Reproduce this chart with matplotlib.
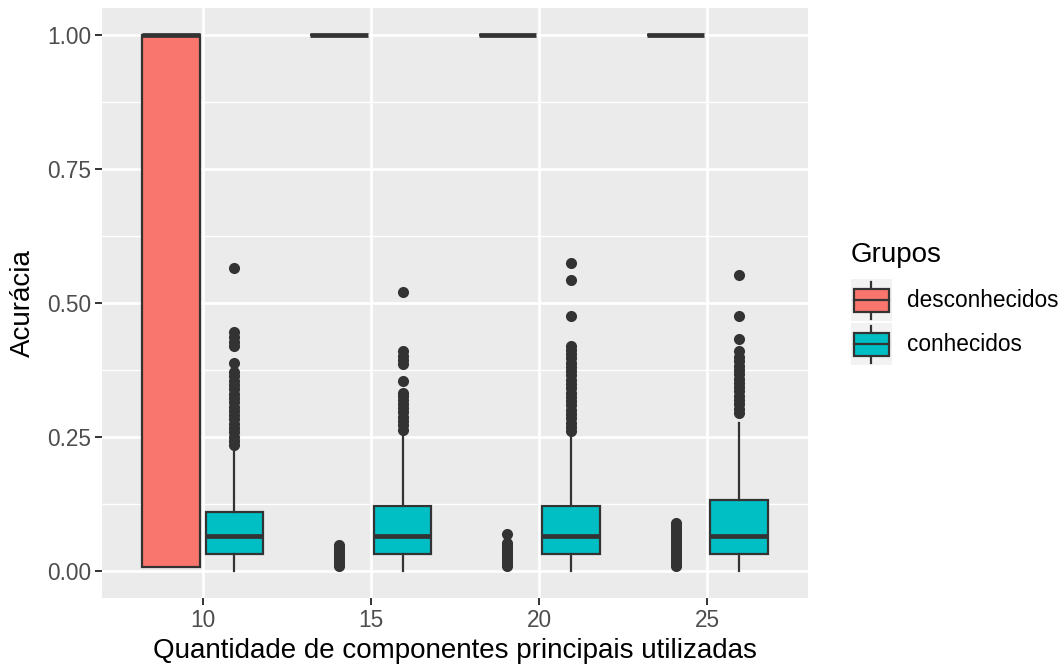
import matplotlib.pyplot as plt
from matplotlib.patches import Patch, Rectangle
from matplotlib.lines import Line2D
from matplotlib.legend_handler import HandlerBase

plt.rcParams['font.family'] = ['Liberation Sans', 'DejaVu Sans']

componentes = [10, 15, 20, 25]
grupos = ["desconhecidos", "conhecidos"]
cores = ["#F8766D", "#00BFC4"]

# estatisticas dos boxplots (desconhecidos)
desc_q1 = [0.008, 1.0, 1.0, 1.0]
desc_med = [1.0, 1.0, 1.0, 1.0]
desc_q3 = [1.0, 1.0, 1.0, 1.0]
desc_lo = [0.008, 1.0, 1.0, 1.0]
desc_hi = [1.0, 1.0, 1.0, 1.0]
desc_out = [
    [],
    [0.009, 0.014, 0.019, 0.024, 0.029, 0.034, 0.039, 0.044, 0.049],
    [0.009, 0.014, 0.019, 0.024, 0.029, 0.034, 0.039, 0.044, 0.048, 0.052, 0.069],
    [0.009, 0.014, 0.019, 0.024, 0.029, 0.034, 0.039, 0.044, 0.049, 0.054,
     0.059, 0.064, 0.069, 0.074, 0.079, 0.084, 0.09],
]

# estatisticas dos boxplots (conhecidos)
con_q1 = [0.032, 0.032, 0.032, 0.032]
con_med = [0.065, 0.065, 0.065, 0.065]
con_q3 = [0.110, 0.121, 0.121, 0.132]
con_lo = [0.0, 0.0, 0.0, 0.0]
con_hi = [0.224, 0.254, 0.261, 0.276]
con_out = [
    [0.235, 0.243, 0.251, 0.259, 0.267, 0.275, 0.283, 0.291, 0.299, 0.307, 0.315,
     0.323, 0.331, 0.339, 0.347, 0.355, 0.363, 0.371, 0.388, 0.42, 0.428, 0.436,
     0.445, 0.565],
    [0.264, 0.272, 0.28, 0.288, 0.296, 0.304, 0.312, 0.32, 0.326, 0.332, 0.354,
     0.386, 0.394, 0.402, 0.41, 0.521],
    [0.261, 0.269, 0.277, 0.285, 0.293, 0.301, 0.309, 0.317, 0.325, 0.333, 0.341,
     0.349, 0.357, 0.365, 0.373, 0.381, 0.389, 0.397, 0.405, 0.413, 0.42, 0.476,
     0.542, 0.575],
    [0.295, 0.303, 0.311, 0.319, 0.327, 0.335, 0.343, 0.351, 0.359, 0.367, 0.375,
     0.383, 0.391, 0.399, 0.41, 0.433, 0.476, 0.553],
]

desloc = 0.94
largura = 1.72
escuro = "#333333"


def monta_stats(q1, med, q3, lo, hi, out):
    return [dict(q1=a, med=b, q3=c, whislo=d, whishi=e, fliers=f)
            for a, b, c, d, e, f in zip(q1, med, q3, lo, hi, out)]


class BoxKey(HandlerBase):
    def create_artists(self, legend, orig_handle, xdescent, ydescent,
                       width, height, fontsize, trans):
        x0, y0 = -xdescent, -ydescent
        fundo = Rectangle((x0, y0), width, height, fc="#F2F2F2", ec="none",
                          transform=trans)
        xc = x0 + width / 2
        bx = x0 + width * 0.07
        bw = width * 0.86
        by = y0 + height * 0.22
        bh = height * 0.55
        w1 = Line2D([xc, xc], [y0 + height * 0.06, by], color=escuro, lw=1.6,
                    transform=trans)
        w2 = Line2D([xc, xc], [by + bh, y0 + height * 0.94], color=escuro,
                    lw=1.6, transform=trans)
        caixa = Rectangle((bx, by), bw, bh, fc=orig_handle.get_facecolor(),
                          ec=escuro, lw=1.6, transform=trans)
        meio = Line2D([bx, bx + bw], [by + bh / 2] * 2, color=escuro, lw=1.6,
                      transform=trans)
        return [fundo, w1, w2, caixa, meio]


fig = plt.figure(figsize=(10.64, 6.66), dpi=100)
ax = fig.add_axes([102 / 1064, 1 - 598 / 666, 706 / 1064, 590 / 666])
ax.set_facecolor("#EBEBEB")
for s in ax.spines.values():
    s.set_visible(False)

series = [
    (monta_stats(desc_q1, desc_med, desc_q3, desc_lo, desc_hi, desc_out), -desloc, cores[0]),
    (monta_stats(con_q1, con_med, con_q3, con_lo, con_hi, con_out), desloc, cores[1]),
]
for stats, d, cor in series:
    ax.bxp(stats, positions=[c + d for c in componentes], widths=largura,
           patch_artist=True, showcaps=False, manage_ticks=False,
           boxprops=dict(facecolor=cor, edgecolor=escuro, linewidth=1.6),
           medianprops=dict(color=escuro, linewidth=3.4, solid_capstyle="butt"),
           whiskerprops=dict(color=escuro, linewidth=1.6),
           flierprops=dict(marker="o", markersize=8, markerfacecolor=escuro,
                           markeredgecolor=escuro, markeredgewidth=0),
           zorder=3)

ax.set_xlim(7, 28)
ax.set_ylim(-0.05, 1.05)
ax.set_xticks(componentes)
ax.set_yticks([0, 0.25, 0.5, 0.75, 1.0])
ax.set_yticklabels(["0.00", "0.25", "0.50", "0.75", "1.00"])
ax.set_yticks([0.125, 0.375, 0.625, 0.875], minor=True)
ax.grid(True, which="major", color="white", linewidth=1.9, zorder=0)
ax.grid(True, which="minor", axis="y", color="white", linewidth=0.95, zorder=0)
ax.set_axisbelow(True)
ax.tick_params(axis="both", which="major", length=5, width=1.4, color=escuro,
               labelsize=16.3, labelcolor="#4D4D4D", pad=3)
ax.tick_params(axis="both", which="minor", length=0)

ax.set_xlabel("Quantidade de componentes principais utilizadas", fontsize=20,
              labelpad=4)
ax.set_ylabel("Acurácia", fontsize=20, labelpad=8)

# legenda: titulo separado para controlar o espaco ate as chaves
fig.text(851 / 1064, 1 - 262 / 666, "Grupos", fontsize=20, va="baseline",
         ha="left")
handles = [Patch(facecolor=c, label=g) for g, c in zip(grupos, cores)]
leg = fig.legend(handles=handles, loc="upper left",
                 bbox_to_anchor=(851 / 1064, 1 - 279 / 666), frameon=False,
                 fontsize=16.3, handler_map={Patch: BoxKey()},
                 handlelength=1.81, handleheight=2.48, labelspacing=0.09,
                 handletextpad=0.68, borderpad=0, borderaxespad=0)

fig.savefig("out.png", dpi=100)
